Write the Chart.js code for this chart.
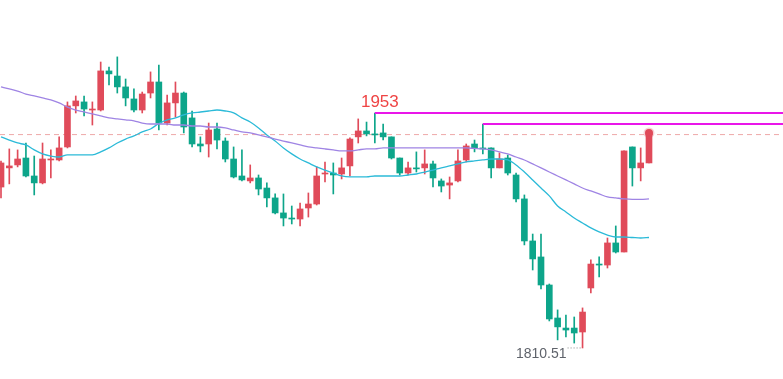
<!DOCTYPE html>
<html><head><meta charset="utf-8">
<script src="https://cdn.jsdelivr.net/npm/chart.js@4.4.1/dist/chart.umd.min.js"></script>
<style>html,body{margin:0;padding:0;background:#fff;overflow:hidden}#wrap{width:783px;height:379px;position:relative}</style>
</head><body><div id="wrap"><canvas id="c" width="783" height="379"></canvas></div>
<script>
const opens=[1908.1,1919.7,1921.5,1925.7,1914.8,1910.6,1924.5,1924.5,1932.4,1957.3,
 1959.7,1954.8,1954.8,1978.5,1975.4,1968.8,1961.5,1954.8,1965.1,1971.8,
 1946.9,1959.1,1965.1,1950.0,1934.2,1934.2,1943.3,1936.0,1925.1,1914.8,
 1911.8,1913.6,1907.5,1901.5,1892.4,1889.3,1888.7,1895.4,1897.8,1916.0,
 1916.6,1916.0,1920.9,1938.5,1942.1,1940.3,1940.9,1938.5,1925.7,1916.6,
 1919.7,1919.7,1922.1,1911.8,1909.3,1911.8,1924.5,1934.2,1931.8,1931.8,
 1919.7,1925.7,1915.4,1900.9,1875.4,1865.7,1848.7,1828.7,1822.6,1822.6,
 1820.2,1846.9,1861.4,1860.8,1874.2,1868.7,1932.4,1919.7,1922.7];
const closes=[1922.7,1920.9,1925.1,1914.8,1910.6,1925.1,1925.1,1931.8,1957.3,1960.3,
 1955.4,1955.4,1978.5,1976.7,1968.8,1962.1,1954.8,1964.5,1971.8,1946.9,
 1959.1,1965.1,1944.5,1934.2,1933.0,1942.7,1936.6,1925.1,1914.2,1912.4,
 1913.6,1906.9,1901.5,1892.4,1889.3,1888.7,1894.8,1897.8,1914.8,1916.6,
 1915.4,1919.7,1937.2,1942.1,1940.3,1939.7,1938.5,1925.7,1916.6,1919.7,
 1919.1,1922.1,1913.6,1908.7,1910.6,1923.9,1933.0,1931.8,1931.2,1919.7,
 1925.1,1916.6,1900.9,1875.4,1864.5,1848.7,1828.1,1823.3,1821.4,1819.6,
 1832.3,1861.4,1860.8,1874.2,1868.7,1930.0,1919.7,1922.7,1940.3];
const highs=[1923.9,1931.2,1930.6,1934.8,1926.9,1934.8,1930.6,1938.5,1959.7,1963.3,
 1963.3,1959.7,1983.9,1980.9,1987.0,1973.6,1967.6,1965.7,1977.9,1982.1,
 1963.9,1971.8,1965.7,1954.2,1938.5,1946.9,1946.9,1937.9,1932.4,1930.6,
 1921.5,1915.4,1910.6,1903.9,1903.9,1896.6,1898.4,1904.5,1920.3,1923.3,
 1922.7,1925.7,1937.9,1949.4,1947.5,1953.0,1946.3,1938.5,1925.7,1923.3,
 1929.4,1930.6,1923.9,1913.0,1914.2,1930.6,1934.2,1936.6,1946.3,1931.8,
 1928.8,1927.5,1916.6,1903.3,1879.6,1879.6,1849.3,1833.6,1830.5,1829.3,
 1834.8,1863.9,1865.7,1877.2,1884.5,1930.0,1932.4,1931.8,1940.9];
const lows=[1901.5,1910.0,1920.3,1914.2,1903.3,1910.0,1913.6,1923.9,1931.8,1953.0,
 1951.2,1945.7,1954.2,1970.0,1965.1,1957.3,1953.6,1953.0,1962.1,1942.7,
 1945.7,1950.6,1940.9,1932.4,1929.4,1926.3,1931.2,1923.3,1913.6,1911.8,
 1910.6,1903.3,1896.0,1891.8,1884.5,1885.7,1884.5,1889.9,1897.2,1911.2,
 1903.9,1913.0,1914.8,1934.8,1939.1,1934.8,1936.6,1925.1,1915.4,1915.4,
 1917.2,1916.0,1908.1,1905.1,1900.9,1911.2,1923.3,1929.4,1928.2,1913.6,
 1919.7,1915.4,1899.0,1873.0,1857.8,1846.3,1826.9,1815.4,1817.2,1813.5,
 1810.51,1843.9,1853.6,1859.0,1868.1,1868.7,1908.7,1911.8,1922.7];
const maSlow=[1968.8,1967.6,1966.3,1964.5,1963.3,1962.1,1960.9,1959.1,1956.6,1954.8,
 1953.6,1952.4,1951.2,1950.0,1949.4,1948.8,1948.2,1946.9,1946.3,1946.3,
 1946.3,1945.7,1945.7,1945.1,1945.1,1944.5,1944.5,1943.9,1942.7,1941.5,
 1940.9,1939.7,1938.5,1937.2,1936.0,1934.8,1933.6,1932.4,1931.8,1931.2,
 1930.6,1930.0,1930.0,1930.6,1931.2,1931.2,1931.8,1931.8,1931.8,1931.8,
 1931.8,1931.8,1931.8,1931.8,1931.8,1931.8,1931.8,1931.5,1931.2,1930.6,
 1929.4,1928.2,1926.3,1924.5,1922.1,1919.7,1917.2,1914.8,1912.4,1910.0,
 1907.5,1905.7,1903.9,1902.1,1901.5,1900.9,1900.6,1900.6,1900.9];
const maFast=[1938.5,1936.6,1934.8,1933.6,1930.6,1928.2,1926.9,1926.3,1927.6,1927.6,
 1927.6,1927.6,1929.4,1931.8,1934.8,1937.2,1939.1,1941.5,1943.3,1946.6,
 1948.8,1950.0,1951.8,1953.0,1953.6,1954.2,1954.8,1954.2,1953.0,1950.0,
 1947.5,1943.9,1939.7,1936.0,1931.8,1928.2,1925.1,1922.7,1920.3,1918.4,
 1916.6,1914.8,1914.2,1914.2,1914.2,1914.8,1914.8,1914.8,1914.8,1915.4,
 1916.0,1917.2,1918.4,1919.7,1920.9,1922.1,1923.3,1923.9,1924.5,1925.1,
 1925.1,1924.5,1921.5,1917.2,1912.4,1907.5,1902.7,1896.6,1893.0,1889.3,
 1886.3,1883.3,1880.9,1879.0,1877.8,1877.8,1877.5,1877.2,1877.5];
const levelHigh=1953, levelHighStart=45;
const levelSecond=1946.3, levelSecondStart=58;
const lowValue=1810.51, lowIndex=70;
const lastPrice=1939.9;

const X_MIN=-0.12, X_MAX=94.13;
const UP='#e04b5a', DOWN='#0da58a';
const idx=opens.map((_,i)=>i);
const colors=idx.map(i=>closes[i]>=opens[i]?UP:DOWN);

const labelPlugin={
  id:'labels',
  afterDatasetsDraw(chart){
    const {ctx,scales:{x,y}}=chart;
    ctx.save();
    ctx.font='17px "Liberation Sans", Arial, sans-serif';
    ctx.fillStyle='#ef4444';
    ctx.textAlign='center';ctx.textBaseline='alphabetic';
    ctx.fillText(String(levelHigh),x.getPixelForValue(levelHighStart)+5,y.getPixelForValue(levelHigh)-6);
    ctx.font='14px "Liberation Sans", Arial, sans-serif';
    ctx.fillStyle='#5f636b';
    ctx.textAlign='right';
    ctx.fillText(lowValue.toFixed(2),x.getPixelForValue(lowIndex)-16,y.getPixelForValue(lowValue)+10);
    ctx.restore();
  }
};

new Chart(document.getElementById('c'),{
  type:'bar',
  data:{datasets:[
    {type:'line',data:[{x:X_MIN,y:lastPrice},{x:X_MAX,y:lastPrice}],borderColor:'rgba(232,140,140,0.75)',borderWidth:1,borderDash:[5,4],pointRadius:0,order:5},
    {type:'bar',data:idx.map(i=>({x:i,y:[lows[i],highs[i]]})),backgroundColor:colors,barThickness:1,grouped:false,order:4},
    {type:'bar',data:idx.map(i=>({x:i,y:[opens[i],closes[i]]})),backgroundColor:colors,barThickness:6,minBarLength:1,grouped:false,order:3},
    {type:'line',data:idx.map(i=>({x:i,y:maSlow[i]})),borderColor:'#9f84e4',borderWidth:1.3,pointRadius:0,cubicInterpolationMode:'monotone',order:1},
    {type:'line',data:idx.map(i=>({x:i,y:maFast[i]})),borderColor:'#2bbad8',borderWidth:1.3,pointRadius:0,cubicInterpolationMode:'monotone',order:1},
    {type:'line',data:[{x:levelHighStart,y:levelHigh},{x:X_MAX,y:levelHigh}],borderColor:'#e916e9',borderWidth:2,pointRadius:0,order:0},
    {type:'line',data:[{x:levelSecondStart,y:levelSecond},{x:X_MAX,y:levelSecond}],borderColor:'#e916e9',borderWidth:2,pointRadius:0,order:0},
    {type:'line',data:[{x:lowIndex-1.8,y:lowValue},{x:lowIndex,y:lowValue}],borderColor:'#888',borderWidth:1,borderDash:[1,2],pointRadius:0,order:0},
    {type:'line',data:[{x:opens.length-1,y:highs[highs.length-1]}],showLine:false,pointRadius:4,pointBackgroundColor:UP,pointBorderColor:'rgba(224,75,90,0.25)',pointBorderWidth:3,order:0}
  ]},
  options:{
    responsive:false,devicePixelRatio:1,animation:false,
    layout:{padding:0,autoPadding:false},
    plugins:{legend:{display:false},tooltip:{enabled:false}},
    scales:{
      x:{type:'linear',min:X_MIN,max:X_MAX,display:false,offset:false},
      y:{min:1791.7,max:2021.5,display:false}
    }
  },
  plugins:[labelPlugin]
});
</script>
</body></html>
